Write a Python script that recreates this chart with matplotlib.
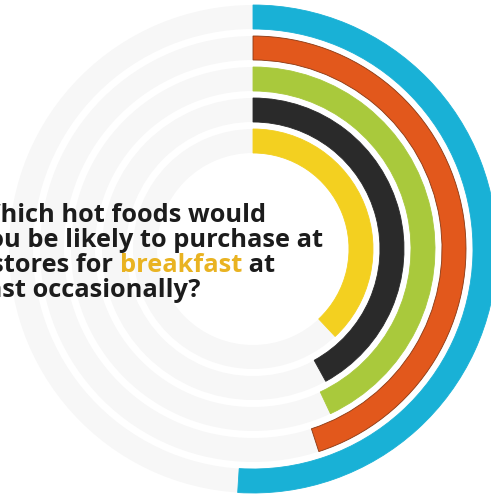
import matplotlib.pyplot as plt
from matplotlib.patches import Wedge

# share of respondents, outer ring first
foods = ["Food 1", "Food 2", "Food 3", "Food 4", "Food 5"]
shares = [51, 45, 43, 42, 38]
colors = ["#19b1d6", "#e2581c", "#a9c93c", "#2a2a2a", "#f3d020"]

question = ["Which hot foods would",
            "you be likely to purchase at",
            "c-stores for ", "breakfast", " at",
            "least occasionally?"]

W, H = 491, 498
fig = plt.figure(figsize=(W / 100, H / 100), dpi=100)
ax = fig.add_axes([0, 0, 1, 1])
ax.set_xlim(0, W)
ax.set_ylim(0, H)
ax.axis("off")

cx, cy = 253, H - 249
outer = 244
band = 24
pitch = 31

for i, (name, val, col) in enumerate(zip(foods, shares, colors)):
    r = outer - i * pitch
    # faint background track
    ax.add_patch(Wedge((cx, cy), r, 0, 360, width=band, facecolor="#f7f7f7", edgecolor="none"))
    ang = val / 100 * 360
    ec = "#8a3812" if col == "#e2581c" else col
    ax.add_patch(Wedge((cx, cy), r, 90 - ang, 90, width=band, facecolor=col,
                       edgecolor=ec, linewidth=0.6))

# question text, its left part runs off the page as in the print
fs = 18.3
kw = dict(fontsize=fs, fontweight="bold", family=["Open Sans", "DejaVu Sans"],
          color="#1c1c1c", clip_on=False)
ax.text(-24, H - 222, question[0], va="baseline", **kw)
ax.text(-26, H - 247, question[1], va="baseline", **kw)
t = ax.text(-30, H - 272, question[2], va="baseline", **kw)
t = ax.annotate(question[3], xy=(1, 0), xycoords=t, va="bottom",
                **dict(kw, color="#e9b322"))
ax.annotate(question[4], xy=(1, 0), xycoords=t, va="bottom", **kw)
ax.text(-36, H - 297, question[5], va="baseline", **kw)

fig.savefig("out.png", dpi=100, facecolor="white")
